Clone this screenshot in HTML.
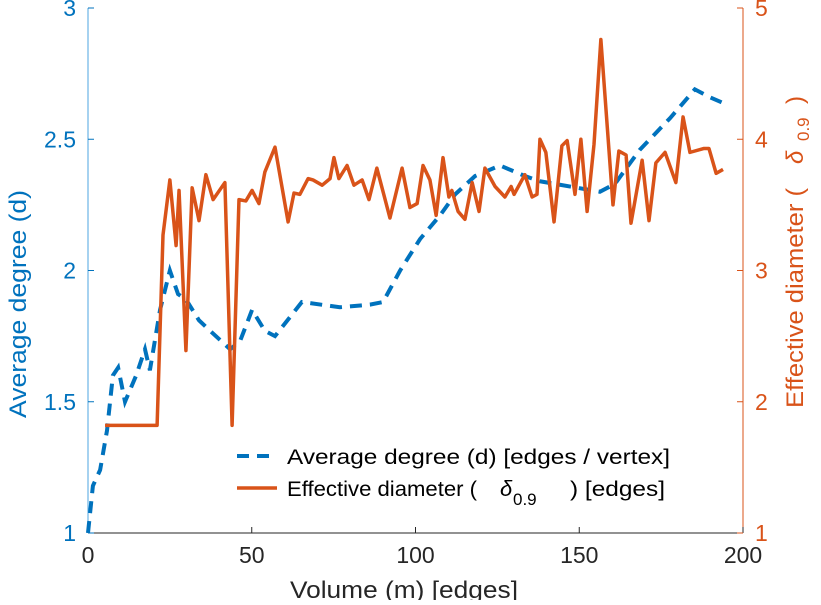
<!DOCTYPE html>
<html><head><meta charset="utf-8"><style>
body{margin:0;background:#fff;}
svg text{font-family:"Liberation Sans",sans-serif;}
</style></head><body>
<svg id="c" width="821" height="600" xmlns="http://www.w3.org/2000/svg"></svg>
<script>
const xTicks=[0,50,100,150,200];
const leftTicks=[1,1.5,2,2.5,3];
const rightTicks=[1,2,3,4,5];
const degM=[0,1.5,3.7,5.8,7.6,9.2,11.3,14.7,17.4,18.9,22.0,25.0,27.5,29.9,33.9,37.3,43.4,46.4,50.1,54.0,57.1,65.3,76.9,86.1,90.1,95.3,101.4,107.5,112.1,118.2,125.8,133.4,138.0,156.3,160.9,168.5,177.7,185.3,189.9,193.6];
const degV=[1.0,1.18,1.24,1.39,1.60,1.63,1.50,1.60,1.70,1.62,1.85,2.0,1.91,1.89,1.81,1.77,1.70,1.73,1.85,1.77,1.75,1.88,1.86,1.87,1.88,2.0,2.12,2.21,2.29,2.36,2.40,2.36,2.34,2.30,2.33,2.46,2.58,2.69,2.66,2.64];
const diaM=[5.2,21.1,22.9,25.0,26.9,27.8,29.9,31.8,33.9,36.0,38.2,41.8,44.0,46.1,48.2,50.1,52.2,54.0,57.1,61.1,62.9,64.7,67.2,68.7,71.5,73.9,75.1,76.6,79.1,81.2,83.7,85.8,88.2,92.2,95.9,98.3,100.5,102.3,104.4,106.3,108.4,110.2,111.1,113.0,115.1,117.3,119.4,121.2,124.3,127.3,129.2,130.1,133.4,135.6,137.1,138.0,139.8,142.3,144.7,146.3,148.7,150.5,152.4,154.5,156.6,160.3,162.1,164.3,165.8,169.2,171.3,173.4,176.2,179.5,181.7,183.8,188.1,189.6,191.8,193.9];
const diaV=[1.82,1.82,3.27,3.69,3.19,3.61,2.39,3.63,3.38,3.73,3.54,3.67,1.82,3.54,3.53,3.61,3.51,3.75,3.94,3.37,3.59,3.58,3.70,3.69,3.65,3.70,3.86,3.70,3.80,3.65,3.69,3.54,3.78,3.40,3.78,3.48,3.51,3.80,3.69,3.42,3.86,3.56,3.61,3.45,3.39,3.67,3.45,3.78,3.64,3.56,3.64,3.58,3.73,3.56,3.58,4.00,3.90,3.37,3.95,3.99,3.58,4.00,3.45,3.96,4.76,3.50,3.91,3.88,3.36,3.84,3.38,3.82,3.90,3.67,4.17,3.90,3.93,3.93,3.74,3.77];
const L=88,R=743,T=8,B=533;
const X=m=>L+(m-0)/200*(R-L);
const YL=v=>B-(v-1)/2*(B-T);
const YR=v=>B-(v-1)/4*(B-T);
const svg=document.getElementById('c');
const NS='http://www.w3.org/2000/svg';
function mk(tag,attrs,txt){const e=document.createElementNS(NS,tag);for(const k in attrs)e.setAttribute(k,attrs[k]);if(txt!==undefined)e.textContent=txt;svg.appendChild(e);return e;}
const blue='#0072BD',orange='#D95319',tickC='#262626';
let e;
e=mk('line',{x1:L,y1:B,x2:R,y2:B,stroke:tickC,'stroke-width':1});


e=mk('line',{x1:L,y1:T,x2:L,y2:B,stroke:'#4DA6E0','stroke-width':1});


e=mk('line',{x1:R,y1:T,x2:R,y2:B,stroke:orange,'stroke-width':1});


xTicks.forEach(t=>{
  mk('line',{x1:X(t),y1:B,x2:X(t),y2:B-6,stroke:tickC});
  e=mk('text',{x:X(t),y:B+30,'text-anchor':'middle','font-size':23,fill:tickC},t);
  
  
});
leftTicks.forEach(t=>{
  mk('line',{x1:L,y1:YL(t),x2:L+6,y2:YL(t),stroke:blue});
  e=mk('text',{x:L-12,y:YL(t)+8,'text-anchor':'end','font-size':23,fill:blue},t);
  
  
});
rightTicks.forEach(t=>{
  mk('line',{x1:R,y1:YR(t),x2:R-6,y2:YR(t),stroke:orange});
  e=mk('text',{x:R+12,y:YR(t)+8,'text-anchor':'start','font-size':23,fill:orange},t);
  
  
});
e=mk('path',{d:degM.map((m,i)=>(i?'L':'M')+X(m)+' '+YL(degV[i])).join(''),fill:'none',stroke:blue,'stroke-width':4,'stroke-dasharray':'12 8'});


e=mk('path',{d:diaM.map((m,i)=>(i?'L':'M')+X(m)+' '+YR(diaV[i])).join(''),fill:'none',stroke:orange,'stroke-width':3.5,'stroke-linejoin':'round'});


e=mk('text',{x:290,y:598,'font-size':24,fill:tickC,textLength:228,lengthAdjust:'spacingAndGlyphs'},'Volume (m) [edges]');


e=mk('text',{x:0,y:0,'font-size':24,fill:blue,textLength:228,lengthAdjust:'spacingAndGlyphs',transform:'translate(26,418) rotate(-90)'},'Average degree (d)');


e=mk('text',{x:0,y:0,'font-size':24,fill:orange,textLength:220,lengthAdjust:'spacingAndGlyphs',transform:'translate(803,408) rotate(-90)'},'Effective diameter (');


mk('text',{x:0,y:0,'font-size':24,'font-style':'italic',fill:orange,transform:'translate(803,164) rotate(-90)'},'δ');
mk('text',{x:0,y:0,'font-size':17,fill:orange,transform:'translate(809,141) rotate(-90)'},'0.9');
mk('text',{x:0,y:0,'font-size':24,fill:orange,transform:'translate(803,104) rotate(-90)'},')');
// legend
e=mk('line',{x1:237,y1:456,x2:277,y2:456,stroke:blue,'stroke-width':4,'stroke-dasharray':'12 8'});


e=mk('text',{x:287,y:464,'font-size':21,fill:'#000',textLength:383,lengthAdjust:'spacingAndGlyphs'},'Average degree (d) [edges / vertex]');


e=mk('line',{x1:237,y1:488,x2:277,y2:488,stroke:orange,'stroke-width':3.5});


e=mk('text',{x:287,y:496,'font-size':21,fill:'#000',textLength:190,lengthAdjust:'spacingAndGlyphs'},'Effective diameter (');


mk('text',{x:500,y:496,'font-size':22,'font-style':'italic',fill:'#000'},'δ');
mk('text',{x:513,y:505,'font-size':17,fill:'#000'},'0.9');
mk('text',{x:570,y:496,'font-size':21,fill:'#000',textLength:95,lengthAdjust:'spacingAndGlyphs'},') [edges]');
</script>
</body></html>
